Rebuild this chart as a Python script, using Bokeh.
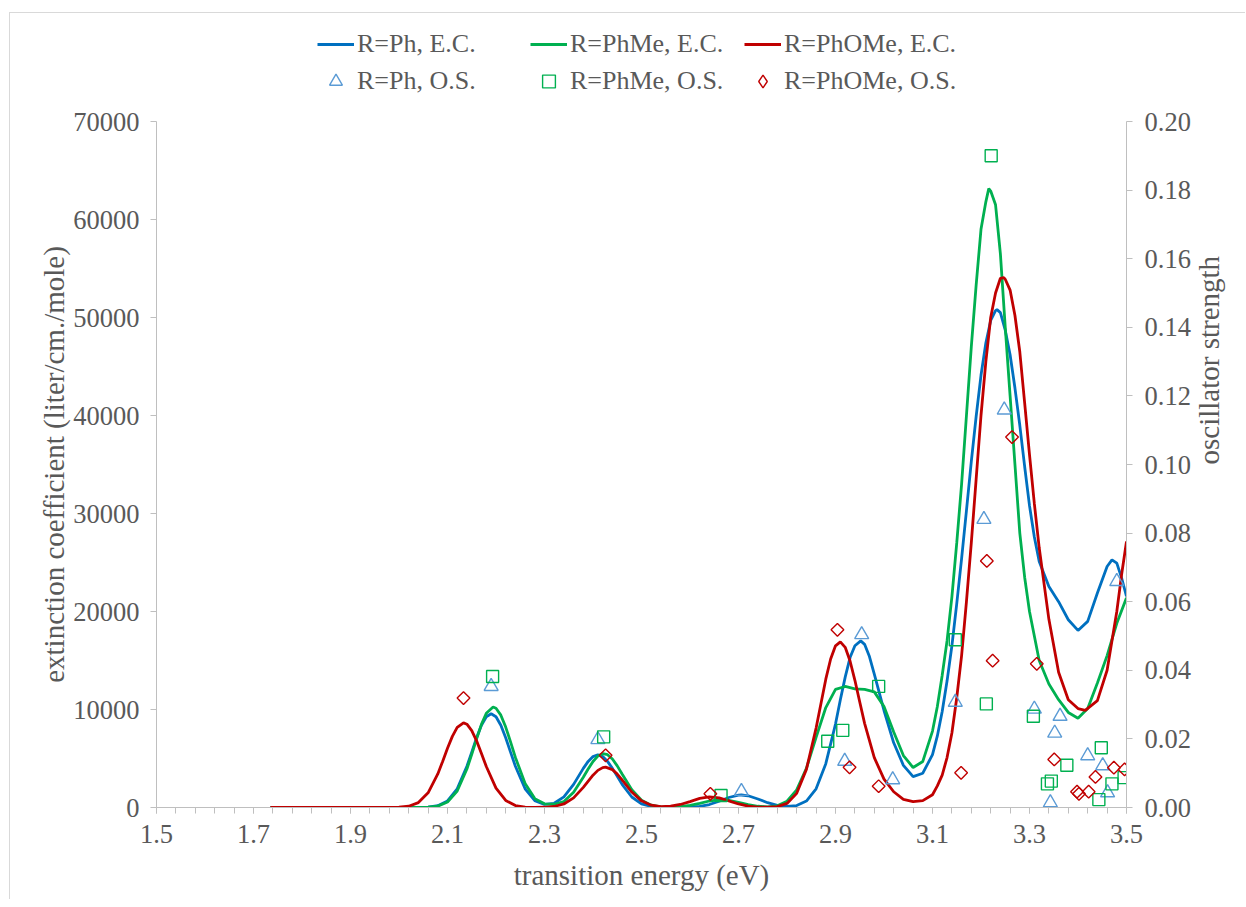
from bokeh.plotting import figure
from bokeh.models import (Range1d, LinearAxis, FixedTicker, NumeralTickFormatter,
                          Legend, LegendItem)
from bokeh.layouts import column
from bokeh.embed import file_html
from bokeh.resources import INLINE
import math

# ---------------- data ----------------
# Extinction coefficient curves (left axis)
ph_ec_x = [1.735, 1.80, 1.90, 1.96, 1.98, 2.00, 2.02, 2.04, 2.06, 2.08, 2.10, 2.12, 2.14, 2.15, 2.16, 2.17, 2.18, 2.19,
           2.20, 2.21, 2.22, 2.23, 2.24, 2.26, 2.28, 2.30, 2.32, 2.34, 2.36, 2.38, 2.39, 2.40, 2.41, 2.42, 2.43, 2.44, 2.46, 2.48,
           2.50, 2.52, 2.54, 2.56, 2.58, 2.60, 2.62, 2.64, 2.66, 2.68, 2.70, 2.706, 2.72, 2.74, 2.76, 2.78,
           2.80, 2.82, 2.84, 2.86, 2.88, 2.90, 2.91, 2.92, 2.93, 2.94, 2.952, 2.96, 2.97, 2.98, 3.00, 3.02, 3.04, 3.06, 3.08,
           3.10, 3.11, 3.12, 3.13, 3.14, 3.15, 3.16, 3.17, 3.18, 3.19, 3.20, 3.21, 3.22, 3.23, 3.233, 3.24, 3.25, 3.26,
           3.27, 3.28, 3.29, 3.30, 3.31, 3.32, 3.34, 3.36, 3.38,
           3.40, 3.42, 3.44, 3.46, 3.47, 3.48, 3.49, 3.50]
ph_ec_y = [0, 0, 0, 0, 0, 0, 1, 6, 37, 179, 667, 1910, 4203, 5650, 7112, 8388, 9257, 9566,
           9257, 8388, 7112, 5650, 4203, 1913, 700, 320, 430, 1078, 2358, 3990, 4705, 5193, 5366, 5193, 4705, 3990, 2358, 1072,
           374, 100, 21, 4, 7, 32, 112, 304, 635, 1020, 1259, 1274, 1195, 871, 490, 217,
           110, 201, 661, 1912, 4471, 8511, 11000, 13300, 15300, 16500, 17000, 16650, 15400, 13600, 9900, 6600, 4300, 3150, 3500,
           5400, 7300, 9800, 12900, 16500, 20800, 25400, 30300, 35300, 39900, 44100, 47400, 49700, 50700, 50800, 50500, 48700, 46200,
           42800, 39000, 34800, 30800, 27600, 25100, 22550, 21000, 19160,
           18070, 18990, 21880, 24590, 25270, 24930, 23400, 21530]

phme_ec_x = [1.735, 1.80, 1.90, 1.96, 1.98, 2.00, 2.02, 2.04, 2.06, 2.08, 2.10, 2.12, 2.14, 2.15, 2.16, 2.17, 2.18, 2.194,
             2.20, 2.21, 2.22, 2.23, 2.24, 2.26, 2.28, 2.30, 2.32, 2.34, 2.36, 2.38, 2.39, 2.40, 2.41, 2.42, 2.43, 2.44, 2.45, 2.46, 2.48,
             2.50, 2.52, 2.54, 2.56, 2.58, 2.60, 2.62, 2.64, 2.66, 2.68, 2.70, 2.72, 2.74, 2.76, 2.78,
             2.80, 2.82, 2.84, 2.86, 2.88, 2.90, 2.92, 2.94, 2.96, 2.98, 3.00, 3.02, 3.04, 3.06, 3.08,
             3.10, 3.11, 3.12, 3.13, 3.14, 3.15, 3.16, 3.17, 3.18, 3.19, 3.20, 3.21, 3.216, 3.22, 3.23, 3.24, 3.25, 3.26,
             3.27, 3.28, 3.29, 3.30, 3.32, 3.34, 3.36, 3.38,
             3.40, 3.42, 3.44, 3.46, 3.48, 3.50]
phme_ec_y = [0, 0, 0, 0, 0, 0, 0, 4, 28, 144, 562, 1687, 3932, 5426, 7008, 8484, 9610, 10250,
             10129, 9423, 8208, 6694, 5111, 2450, 907, 380, 330, 612, 1554, 3081, 3928, 4693, 5245, 5493, 5385, 4945, 4250, 3421, 1821,
             744, 235, 62, 33, 81, 208, 424, 662, 796, 735, 522, 286, 126, 73, 175,
             640, 1800, 4000, 7150, 10200, 12050, 12350, 12100, 12050, 11800, 10300, 7700, 5300, 4080, 4700,
             7800, 10300, 13500, 17000, 21500, 27000, 33000, 40000, 47000, 53300, 59000, 61800, 63150, 62900, 61500, 56500, 49000, 42000,
             35000, 28000, 23500, 20000, 15000, 12600, 11000, 9700,
             9100, 10100, 12700, 15500, 18800, 21400]

phome_ec_x = [1.735, 1.80, 1.90, 1.96, 1.98, 2.00, 2.02, 2.04, 2.06, 2.08, 2.09, 2.10, 2.11, 2.12, 2.133, 2.14, 2.15, 2.16, 2.17, 2.18,
              2.20, 2.22, 2.24, 2.26, 2.28, 2.30, 2.32, 2.34, 2.36, 2.38, 2.40, 2.41, 2.42, 2.426, 2.44, 2.45, 2.46, 2.48,
              2.50, 2.52, 2.54, 2.56, 2.58, 2.60, 2.62, 2.64, 2.66, 2.68, 2.70, 2.72, 2.74, 2.76, 2.78,
              2.80, 2.82, 2.84, 2.86, 2.88, 2.89, 2.90, 2.91, 2.92, 2.93, 2.94, 2.95, 2.96, 2.98, 3.00, 3.02, 3.04, 3.06, 3.08,
              3.10, 3.11, 3.12, 3.13, 3.14, 3.15, 3.16, 3.17, 3.18, 3.19, 3.20, 3.21, 3.22, 3.23, 3.24, 3.247, 3.25, 3.26,
              3.27, 3.28, 3.29, 3.30, 3.31, 3.32, 3.34, 3.36, 3.38,
              3.40, 3.415, 3.44, 3.46, 3.48, 3.49, 3.50]
phome_ec_y = [0, 0, 0, 0, 4, 26, 130, 502, 1499, 3429, 4704, 6037, 7258, 8173, 8640, 8502, 7854, 6800, 5508, 4183,
              1975, 719, 200, 43, 11, 23, 102, 362, 984, 2054, 3299, 3788, 4071, 4120, 3863, 3410, 2817, 1580,
              679, 233, 93, 130, 307, 607, 925, 1083, 974, 674, 359, 147, 48, 26, 94,
              414, 1444, 3888, 8103, 13095, 15154, 16494, 16900, 16345, 14947, 12979, 10761, 8590, 5086, 2895, 1606, 828, 600, 700,
              1300, 2200, 3300, 5100, 7600, 11200, 15500, 21000, 27000, 33500, 40000, 45500, 50000, 52500, 54000, 54080, 53900, 52800,
              50200, 46500, 41300, 36000, 31000, 26500, 19200, 13800, 11000,
              10100, 9920, 10900, 14000, 20000, 23800, 27140]

# Oscillator strengths (right axis)
ph_os_x = [2.190, 2.410, 2.706, 2.919, 2.954, 3.018, 3.147, 3.206, 3.248, 3.310, 3.343, 3.352, 3.363,
           3.420, 3.451, 3.461, 3.480]
ph_os_y = [0.0353, 0.0198, 0.0047, 0.0135, 0.0504, 0.0081, 0.0307, 0.0840, 0.1159, 0.0287, 0.0014, 0.0217,
           0.0266, 0.0151, 0.0122, 0.0043, 0.0659]

phme_os_x = [2.193, 2.422, 2.664, 2.884, 2.915, 2.989, 3.147, 3.211, 3.221, 3.308, 3.337, 3.345, 3.377,
             3.443, 3.448, 3.470, 3.495]
phme_os_y = [0.0382, 0.0206, 0.0035, 0.0193, 0.0225, 0.0353, 0.0489, 0.0302, 0.1900, 0.0266, 0.0069, 0.0077,
             0.0123, 0.0023, 0.0174, 0.0069, 0.0087]

phome_os_x = [2.133, 2.426, 2.642, 2.904, 2.929, 2.989, 3.159, 3.212, 3.224, 3.264, 3.315, 3.351, 3.398,
              3.402, 3.422, 3.436, 3.474, 3.496]
phome_os_y = [0.0319, 0.0152, 0.0040, 0.0518, 0.0117, 0.0062, 0.0101, 0.0719, 0.0428, 0.1080, 0.0419, 0.0140,
              0.0046, 0.0040, 0.0046, 0.0089, 0.0116, 0.0111]

series_labels_ec = ["R=Ph, E.C.", "R=PhMe, E.C.", "R=PhOMe, E.C."]
series_labels_os = ["R=Ph, O.S.", "R=PhMe, O.S.", "R=PhOMe, O.S."]

x_major_ticks = [1.5, 1.7, 1.9, 2.1, 2.3, 2.5, 2.7, 2.9, 3.1, 3.3, 3.5]
x_minor_ticks = [round(1.5 + 0.04 * i, 2) for i in range(51)]
y_left_ticks = [0, 10000, 20000, 30000, 40000, 50000, 60000, 70000]
y_right_ticks = [0.0, 0.02, 0.04, 0.06, 0.08, 0.10, 0.12, 0.14, 0.16, 0.18, 0.20]

x_title = "transition energy (eV)"
y_left_title = "extinction coefficient (liter/cm./mole)"
y_right_title = "oscillator strength"

# ---------------- styling ----------------
FONT = "Liberation Serif"
TXT = "#595959"
AXC = "#BFBFBF"
BLUE, GREEN, RED = "#0070C0", "#00B050", "#C00000"
LBLUE = "#5B9BD5"
W = 1235
TOP_H = 86
LW = 2.8
NAN = float("nan")

line_colors = [BLUE, GREEN, RED]
marker_specs = [dict(marker="triangle", size=14, line_color=LBLUE),
                dict(marker="square", size=12, line_color=GREEN),
                dict(marker="square", size=9, angle=math.pi / 4, line_color=RED)]
legend_marker_specs = [dict(marker="triangle", line_color=LBLUE),
                       dict(marker="square", line_color=GREEN),
                       dict(marker="diamond", line_color=RED)]

# ---- main chart ----
p = figure(width=W, height=800, output_backend="svg", toolbar_location=None,
           x_range=Range1d(1.5, 3.5), y_range=Range1d(0, 70000),
           min_border_left=146, min_border_right=119, min_border_top=22, min_border_bottom=92)
p.outline_line_color = None
p.xgrid.visible = False
p.ygrid.visible = False
p.background_fill_color = "white"
p.border_fill_color = "white"
p.extra_y_ranges = {"os": Range1d(0, 0.2)}

right_axis = LinearAxis(y_range_name="os")
p.add_layout(right_axis, "right")

def style_axis(ax):
    ax.axis_line_color = AXC
    ax.major_tick_line_color = AXC
    ax.minor_tick_line_color = AXC
    ax.major_tick_in = 0
    ax.major_tick_out = 6
    ax.minor_tick_in = 0
    ax.major_label_text_font = FONT
    ax.major_label_text_font_size = "26.5px"
    ax.major_label_text_color = TXT
    ax.axis_label_text_font = FONT
    ax.axis_label_text_font_size = "29px"
    ax.axis_label_text_color = TXT
    ax.axis_label_text_font_style = "normal"

xax = p.xaxis[0]
style_axis(xax)
xax.ticker = FixedTicker(ticks=x_major_ticks, minor_ticks=x_minor_ticks)
xax.formatter = NumeralTickFormatter(format="0.0")
xax.minor_tick_out = 6
xax.major_label_standoff = 11
xax.axis_label = x_title
xax.axis_label_standoff = 13

yax = p.yaxis[0]
style_axis(yax)
yax.ticker = FixedTicker(ticks=y_left_ticks)
yax.formatter = NumeralTickFormatter(format="0")
yax.minor_tick_line_color = None
yax.major_label_standoff = 11
yax.axis_label = y_left_title
yax.axis_label_standoff = 0

style_axis(right_axis)
right_axis.ticker = FixedTicker(ticks=y_right_ticks)
right_axis.formatter = NumeralTickFormatter(format="0.00")
right_axis.minor_tick_line_color = None
right_axis.major_label_standoff = 12
right_axis.axis_label = y_right_title
right_axis.axis_label_standoff = 15
right_axis.axis_label_orientation = math.pi / 2

p.line(ph_ec_x, ph_ec_y, line_color=line_colors[0], line_width=LW)
p.line(phme_ec_x, phme_ec_y, line_color=line_colors[1], line_width=LW)
p.line(phome_ec_x, phome_ec_y, line_color=line_colors[2], line_width=LW)

p.scatter(ph_os_x, ph_os_y, fill_alpha=0, line_width=1.4, y_range_name="os", **marker_specs[0])
p.scatter(phme_os_x, phme_os_y, fill_alpha=0, line_width=1.4, y_range_name="os", **marker_specs[1])
p.scatter(phome_os_x, phome_os_y, fill_alpha=0, line_width=1.4, y_range_name="os", **marker_specs[2])

# ---- legend strip above the chart (2 rows x 3 columns) ----
top = figure(width=W, height=TOP_H, output_backend="svg", toolbar_location=None,
             x_range=Range1d(0, 1), y_range=Range1d(0, 1),
             min_border_left=0, min_border_right=0, min_border_top=0, min_border_bottom=0)
top.axis.visible = False
top.xgrid.visible = False
top.ygrid.visible = False
top.outline_line_color = None
top.background_fill_color = "white"
top.border_fill_color = "white"

col_x = [161, 374, 588]   # legend column offsets (px) from the plot frame's left edge
for i in range(3):
    # legend-only renderers (a single NaN sample, so nothing is drawn in the strip itself)
    rl = top.line([NAN], [NAN], line_color=line_colors[i], line_width=LW)
    rm = top.scatter([NAN], [NAN], fill_alpha=0, line_width=1.4, **legend_marker_specs[i])
    leg = Legend(items=[LegendItem(label=series_labels_ec[i], renderers=[rl]),
                        LegendItem(label=series_labels_os[i], renderers=[rm])],
                 location=(col_x[i], 2), orientation="vertical")
    leg.border_line_color = None
    leg.background_fill_alpha = 0
    leg.padding = 0
    leg.margin = 0
    leg.spacing = 5
    leg.glyph_width = 37
    leg.glyph_height = 32
    leg.label_height = 32
    leg.label_standoff = 3
    leg.label_text_font = FONT
    leg.label_text_font_size = "26px"
    leg.label_text_color = TXT
    top.add_layout(leg)

# the light-grey chart-area frame of the original (top and left edges visible)
layout = column(top, p, spacing=0, margin=(12, 0, 0, 9),
                styles={"border-top": "1.5px solid #D9D9D9", "border-left": "1.5px solid #D9D9D9"})
open("out.html", "w").write(file_html(layout, INLINE))
